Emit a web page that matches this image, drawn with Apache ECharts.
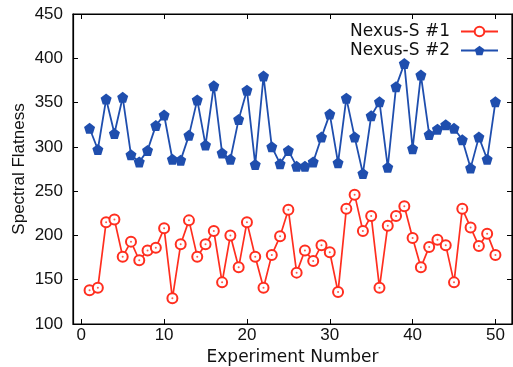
<!DOCTYPE html>
<html>
<head>
<meta charset="utf-8">
<script src="https://cdn.jsdelivr.net/npm/echarts@6/dist/echarts.min.js"></script>
<style>
  html, body { margin: 0; padding: 0; background: #fff; }
  #chart { width: 513px; height: 367px; }
</style>
</head>
<body>
<div id="chart"></div>
<script>
const experiments = Array.from({ length: 50 }, (_, i) => i + 1);

const nexus1 = [
  138, 141, 215, 218, 176, 193, 172, 183, 186, 208,
  129, 190, 217, 176, 190, 205, 147, 200, 164, 215,
  176, 141, 178, 199, 229, 158, 183, 171, 189, 181,
  136, 230, 246, 205, 222, 141, 211, 222, 233, 197,
  164, 187, 195, 189, 147, 230, 209, 188, 202, 178
];

const nexus2 = [
  321, 297, 354, 315, 356, 291, 283, 296, 324, 336,
  286, 285, 313, 353, 302, 369, 293, 286, 331, 364,
  280, 380, 300, 281, 296, 278, 278, 283, 311, 337,
  282, 355, 311, 270, 335, 351, 277, 368, 394, 298,
  381, 314, 320, 325, 321, 308, 276, 311, 286, 351
];

const xTicks = [0, 10, 20, 30, 40, 50];

const RED = '#ff2e1f';
const BLUE = '#1f4eae';
const FONT = 'Liberation Sans';
const WIDE = 'DejaVu Sans';
const pentagon = 'path://M0,-1 L0.951,-0.309 L0.588,0.809 L-0.588,0.809 L-0.951,-0.309 Z';

const chart = echarts.init(document.getElementById('chart'));

const frameAxis = {
  axisLine: { show: true, onZero: false, lineStyle: { color: '#000', width: 1.2 } },
  axisTick: { show: true, inside: true, length: 5, lineStyle: { color: '#000' } },
  splitLine: { show: false }
};

chart.setOption({
  animation: false,
  backgroundColor: '#fff',
  grid: {
    left: 73, right: 1, top: 14, bottom: 43,
    outerBoundsMode: 'none', containLabel: false,
    show: true, borderColor: '#000', borderWidth: 1.2, backgroundColor: 'transparent'
  },
  legend: {
    right: 9,
    top: 18,
    orient: 'vertical',
    align: 'right',
    itemWidth: 37,
    itemHeight: 12,
    itemGap: 2,
    textStyle: { fontFamily: WIDE, fontSize: 17, color: '#111', padding: [0, 6, 0, 0] },
    data: ['Nexus-S #1', 'Nexus-S #2']
  },
  xAxis: [
    {
      ...frameAxis,
      type: 'value',
      min: -1,
      max: 52,
      name: 'Experiment Number',
      nameLocation: 'middle',
      nameGap: 25,
      nameTextStyle: { fontFamily: WIDE, fontSize: 17, color: '#111' },
      axisTick: { ...frameAxis.axisTick, customValues: xTicks },
      axisLabel: { customValues: xTicks, fontFamily: FONT, fontSize: 17, color: '#111', margin: 3 }
    },
    {
      ...frameAxis,
      type: 'value',
      position: 'top',
      min: -1,
      max: 52,
      axisTick: { ...frameAxis.axisTick, customValues: xTicks },
      axisLabel: { show: false, customValues: xTicks }
    }
  ],
  yAxis: [
    {
      ...frameAxis,
      type: 'value',
      min: 100,
      max: 450,
      interval: 50,
      name: 'Spectral Flatness',
      nameLocation: 'middle',
      nameGap: 45,
      nameMoveOverlap: false,
      nameTextStyle: { fontFamily: FONT, fontSize: 17, color: '#111' },
      axisLabel: { fontFamily: FONT, fontSize: 17, color: '#111', margin: 10 }
    },
    {
      ...frameAxis,
      type: 'value',
      position: 'right',
      min: 100,
      max: 450,
      interval: 50,
      axisLabel: { show: false }
    }
  ],
  series: [
    {
      name: 'Nexus-S #1',
      type: 'line',
      data: experiments.map((x, i) => [x, nexus1[i]]),
      symbol: 'emptyCircle',
      symbolSize: 10,
      showAllSymbol: true,
      lineStyle: { color: RED, width: 1.7 },
      itemStyle: { color: RED, borderColor: RED, borderWidth: 1.6 },
      z: 2
    },
    {
      name: 'Nexus-S #1 dot',
      type: 'scatter',
      data: experiments.map((x, i) => [x, nexus1[i]]),
      symbol: 'circle',
      symbolSize: 2,
      itemStyle: { color: RED },
      z: 3,
      silent: true
    },
    {
      name: 'Nexus-S #2',
      type: 'line',
      data: experiments.map((x, i) => [x, nexus2[i]]),
      symbol: pentagon,
      symbolSize: 11,
      showAllSymbol: true,
      lineStyle: { color: BLUE, width: 1.8 },
      itemStyle: { color: BLUE, borderWidth: 0 },
      z: 2
    }
  ]
});
</script>
</body>
</html>
